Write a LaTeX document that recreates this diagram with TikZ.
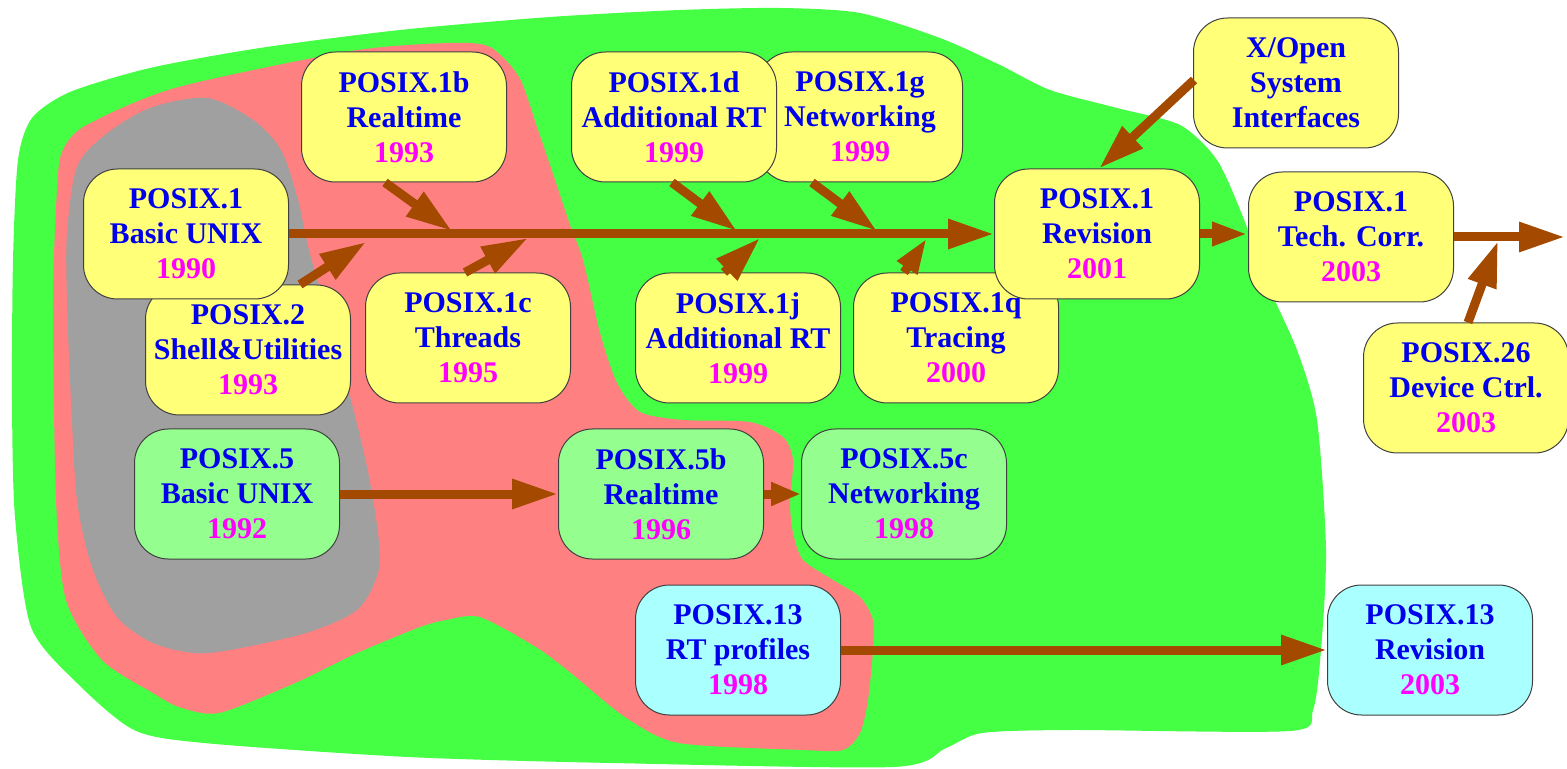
\documentclass[tikz,border=0pt]{standalone}
\usepackage{fontspec}
\setmainfont{Liberation Serif}
\usetikzlibrary{arrows.meta,calc}
\definecolor{blobgreen}{RGB}{68,255,68}
\definecolor{blobsalmon}{RGB}{255,128,128}
\definecolor{blobgray}{RGB}{160,160,160}
\definecolor{boxyellow}{RGB}{255,255,120}
\definecolor{boxgreen}{RGB}{148,255,142}
\definecolor{boxcyan}{RGB}{170,255,255}
\definecolor{arrbrown}{RGB}{163,73,0}
\definecolor{txtblue}{RGB}{0,0,235}
\definecolor{yearmag}{RGB}{255,0,255}
\newcommand{\yr}[1]{\textcolor{yearmag}{#1}}
\begin{document}
\begin{tikzpicture}[x=0.5pt,y=-0.5pt,
  box/.style={draw=black!75, line width=0.5pt, rounded corners=17pt,
    minimum width=102.5pt, minimum height=65pt, align=center, text=txtblue,
    font=\fontsize{15}{17.5}\selectfont\bfseries, inner sep=1pt},
  ybox/.style={box, fill=boxyellow},
  gbox/.style={box, fill=boxgreen},
  cbox/.style={box, fill=boxcyan},
  arr/.style={draw=arrbrown, line width=4.5pt, -{Triangle[length=23pt,width=14pt]}},
  sarr/.style={draw=arrbrown, line width=4.5pt, -{Triangle[length=18pt,width=11pt]}},
  tarr/.style={draw=arrbrown, line width=4.5pt, -{Triangle[length=15pt,width=11pt]}}]
\useasboundingbox (0,0) rectangle (1567,769);
% regions
\fill[blobgreen] plot[smooth cycle, tension=0.45] coordinates {
 (18,160) (32,118) (70,92) (150,68) (260,48) (400,30) (550,17) (680,10) (780,8)
 (860,13) (940,38) (1000,65) (1050,90) (1117,108) (1180,125) (1217,160)
 (1243,217) (1267,283) (1297,350) (1317,420) (1326,550) (1321,650) (1313,710)
 (1290,731) (1071,730) (982,733) (946,748) (893,767) (612,763) (408,757)
 (204,743) (134,730) (77,683) (31,627) (15,517) (12,400) (13,260)};
\fill[blobsalmon] plot[smooth cycle, tension=0.45] coordinates {
 (57,190) (62,152) (85,126) (175,88) (351,51) (450,43) (490,47) (519,77)
 (537,127) (555,180) (570,225) (583,260) (600,333) (617,383) (640,412)
 (683,420) (750,422) (783,437) (793,460) (790,503) (793,533) (803,560)
 (833,580) (860,597) (873,620) (873,650) (868,700) (860,733) (843,750)
 (804,750) (679,743) (625,717) (571,673) (536,647) (480,617) (446,620)
 (420,627) (357,653) (295,683) (219,713) (179,707) (153,693) (102,660)
 (66,600) (56,500) (53,300)};
\fill[blobgray] plot[smooth cycle, tension=0.5] coordinates {
 (207,98) (253,120) (281,150) (298,200) (309,250) (333,333) (351,400) (367,467)
 (378,533) (378,573) (357,610) (306,633) (230,650) (194,653) (153,643) (117,617)
 (92,567) (77,500) (71,400) (67,300) (67,233) (77,167) (105,135) (150,108)};
% boxes
\node[ybox] (p2)  at (248,350) {POSIX.2\\Shell\&Utilities\\\yr{1993}};
\node[ybox] (p1)  at (186,234) {POSIX.1\\Basic UNIX\\\yr{1990}};
\node[ybox] (p1b) at (404,117) {POSIX.1b\\Realtime\\\yr{1993}};
\node[ybox] (p1c) at (468,338) {POSIX.1c\\Threads\\\yr{1995}};
\node[ybox] (p1g) at (860,117) {POSIX.1g\\Networking\\\yr{1999}};
\node[ybox] (p1d) at (674,117) {POSIX.1d\\Additional RT\\\yr{1999}};
\node[ybox] (p1j) at (738,338) {POSIX.1j\\Additional RT\\\yr{1999}};
\node[ybox] (p1q) at (956,338) {POSIX.1q\\Tracing\\\yr{2000}};
\node[ybox] (rev) at (1097,234) {POSIX.1\\Revision\\\yr{2001}};
\node[ybox] (xo)  at (1296,83) {X/Open\\System\\Interfaces};
\node[ybox] (tc)  at (1351,237) {POSIX.1\\Tech. Corr.\\\yr{2003}};
\node[ybox] (p26) at (1466,388) {POSIX.26\\Device Ctrl.\\\yr{2003}};
\node[gbox] (p5)  at (237,494) {POSIX.5\\Basic UNIX\\\yr{1992}};
\node[gbox] (p5b) at (661,494) {POSIX.5b\\Realtime\\\yr{1996}};
\node[gbox] (p5c) at (904,494) {POSIX.5c\\Networking\\\yr{1998}};
\node[cbox] (p13) at (738,650) {POSIX.13\\RT profiles\\\yr{1998}};
\node[cbox] (p13r) at (1430,650) {POSIX.13\\Revision\\\yr{2003}};
% junction points on the main lines
\coordinate (j1b) at (452,231);
\coordinate (j2)  at (366,242);
\coordinate (j1c) at (528,238);
\coordinate (j1d) at (737,231);
\coordinate (j1g) at (877,231);
\coordinate (j1j) at (760,238);
\coordinate (j1q) at (927,238);
\coordinate (j26) at (1498,241);
\coordinate (endr) at (1565,237);
% arrows
\draw[arr] (p1.east) -- (rev.west);
\draw[arr] ($(p1b.south)+(-19,0)$) -- (j1b);
\draw[arr] ($(p2.north)+(52,0)$) -- (j2);
\draw[arr] ($(p1c.north)+(-3,0)$) -- (j1c);
\draw[arr] ($(p1d.south)+(-2,0)$) -- (j1d);
\draw[arr] ($(p1g.south)+(-48,0)$) -- (j1g);
\draw[arr] ($(p1j.north)+(-14,0)$) -- (j1j);
\draw[sarr] ($(p1q.north)+(-52,0)$) -- (j1q);
\draw[arr] ($(xo.west)+(1,-3)$) -- ($(rev.north)+(2,0)$);
\draw[sarr] (rev.east) -- (rev.east -| tc.west);
\draw[arr] (tc.east) -- (endr);
\draw[arr] ($(p26.north)+(2,0)$) -- (j26);
\draw[arr] (p5.east) -- (p5b.west);
\draw[tarr] (p5b.east) -- (p5c.west);
\draw[arr] (p13.east) -- (p13r.west);
\end{tikzpicture}
\end{document}
